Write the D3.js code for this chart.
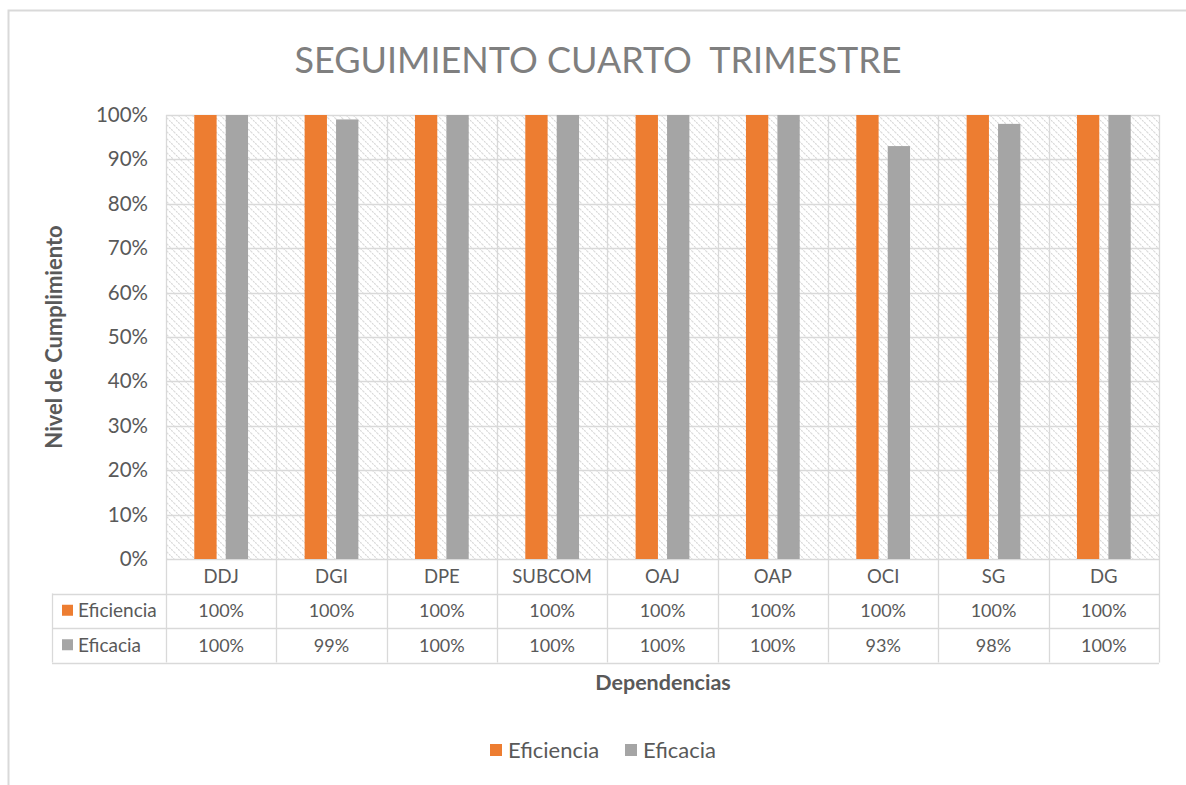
<!DOCTYPE html>
<html>
<head>
<meta charset="utf-8">
<script src="https://cdn.jsdelivr.net/npm/d3@7"></script>
<style>
  body { margin: 0; background: #fff; }
  text { font-family: Lato, "Open Sans", sans-serif; }
</style>
</head>
<body>
<svg id="chart" width="1186" height="785"></svg>
<script>
// data
const categories = ["DDJ", "DGI", "DPE", "SUBCOM", "OAJ", "OAP", "OCI", "SG", "DG"];
const seriesNames = ["Eficiencia", "Eficacia"];
const eficiencia = [1.00, 1.00, 1.00, 1.00, 1.00, 1.00, 1.00, 1.00, 1.00];
const eficacia = [1.00, 0.99, 1.00, 1.00, 1.00, 1.00, 0.93, 0.98, 1.00];
const yTicks = [0, 0.1, 0.2, 0.3, 0.4, 0.5, 0.6, 0.7, 0.8, 0.9, 1.0];

const colors = { "Eficiencia": "#ED7D31", "Eficacia": "#A5A5A5" };
const values = { "Eficiencia": eficiencia, "Eficacia": eficacia };

const svg = d3.select("#chart");
const margin = { left: 166, right: 1159, top: 115, bottom: 559 };
const rowH = 34.5;
const grid = "#d9d9d9";

// chart border (right edge falls off the picture)
svg.append("rect")
    .attr("x", 8.5).attr("y", 10.5)
    .attr("width", 1200).attr("height", 800)
    .attr("fill", "none").attr("stroke", "#d9d9d9").attr("stroke-width", 2);

// hatch pattern
const defs = svg.append("defs");
const pat = defs.append("pattern")
    .attr("id", "hatch")
    .attr("patternUnits", "userSpaceOnUse")
    .attr("width", 7).attr("height", 7);
pat.append("path")
    .attr("d", "M-1,-1 L8,8 M-1,6 L1,8 M6,-1 L8,1")
    .attr("stroke", "#d6d6d6").attr("stroke-width", 1.1)
    .attr("stroke-dasharray", "2,1");

const x = d3.scaleBand()
    .domain(categories)
    .range([margin.left, margin.right]);

const x1 = d3.scaleBand()
    .domain(seriesNames)
    .range([0, x.bandwidth()])
    .paddingInner(0.29)
    .paddingOuter(0.9);

const y = d3.scaleLinear()
    .domain([0, 1])
    .range([margin.bottom, margin.top]);

// plot background
svg.append("rect")
    .attr("x", margin.left).attr("y", margin.top)
    .attr("width", margin.right - margin.left)
    .attr("height", margin.bottom - margin.top)
    .attr("fill", "url(#hatch)");

// horizontal gridlines
svg.append("g")
    .selectAll("line")
    .data(yTicks)
    .enter()
    .append("line")
    .attr("x1", margin.left).attr("x2", margin.right)
    .attr("y1", d => Math.round(y(d)) + 0.5)
    .attr("y2", d => Math.round(y(d)) + 0.5)
    .attr("stroke", grid).attr("stroke-width", 1.3);

// vertical lines at category boundaries, through the data table
const tableBottom = margin.bottom + rowH * 3;
const bounds = categories.map(c => x(c)).concat([margin.right]);
svg.append("g")
    .selectAll("line")
    .data(bounds)
    .enter()
    .append("line")
    .attr("x1", d => Math.round(d) + 0.5).attr("x2", d => Math.round(d) + 0.5)
    .attr("y1", margin.top).attr("y2", tableBottom)
    .attr("stroke", grid).attr("stroke-width", 1.3);

// bars
const groups = svg.append("g")
    .selectAll("g")
    .data(categories)
    .enter()
    .append("g")
    .attr("transform", d => "translate(" + x(d) + ",0)");

groups.selectAll("rect")
    .data((c, i) => seriesNames.map(s => ({ s: s, v: values[s][i] })))
    .enter()
    .append("rect")
    .attr("x", d => x1(d.s))
    .attr("width", x1.bandwidth())
    .attr("y", d => y(d.v))
    .attr("height", d => y(0) - y(d.v))
    .attr("fill", d => colors[d.s]);

// y axis labels
svg.append("g")
    .selectAll("text")
    .data(yTicks)
    .enter()
    .append("text")
    .attr("x", 148)
    .attr("y", d => y(d) + 7)
    .attr("text-anchor", "end")
    .attr("font-size", 20.5)
    .attr("fill", "#595959")
    .text(d3.format(".0%"));

// data table horizontal lines
const tableX0 = 52;
[margin.bottom + rowH, margin.bottom + rowH * 2, tableBottom].forEach(yy => {
    svg.append("line")
        .attr("x1", tableX0).attr("x2", margin.right)
        .attr("y1", Math.round(yy) + 0.5).attr("y2", Math.round(yy) + 0.5)
        .attr("stroke", grid).attr("stroke-width", 1.3);
});
svg.append("line")
    .attr("x1", tableX0 + 0.5).attr("x2", tableX0 + 0.5)
    .attr("y1", margin.bottom + rowH).attr("y2", tableBottom)
    .attr("stroke", grid).attr("stroke-width", 1.3);

// category labels
svg.append("g")
    .selectAll("text")
    .data(categories)
    .enter()
    .append("text")
    .attr("x", d => x(d) + x.bandwidth() / 2)
    .attr("y", margin.bottom + rowH / 2 + 7)
    .attr("text-anchor", "middle")
    .attr("font-size", 18.5)
    .attr("fill", "#595959")
    .text(d => d);

// table value rows
seriesNames.forEach((s, r) => {
    const cy = margin.bottom + rowH * (r + 1) + rowH / 2;
    svg.append("rect")
        .attr("x", 62).attr("y", cy - 6)
        .attr("width", 11).attr("height", 11)
        .attr("fill", colors[s]);
    svg.append("text")
        .attr("x", 78).attr("y", cy + 6.5)
        .attr("font-size", 19)
        .attr("fill", "#595959")
        .text(s);
    svg.append("g")
        .selectAll("text")
        .data(values[s])
        .enter()
        .append("text")
        .attr("x", (d, i) => x(categories[i]) + x.bandwidth() / 2)
        .attr("y", cy + 6.5)
        .attr("text-anchor", "middle")
        .attr("font-size", 18)
        .attr("fill", "#595959")
        .text(d3.format(".0%"));
});

// title
svg.append("text")
    .attr("x", 598).attr("y", 73)
    .attr("text-anchor", "middle")
    .attr("font-size", 36)
    .attr("fill", "#7f7f7f")
    .style("white-space", "pre")
    .text("SEGUIMIENTO CUARTO  TRIMESTRE");

// axis titles
svg.append("text")
    .attr("transform", "translate(62,337) rotate(-90)")
    .attr("text-anchor", "middle")
    .attr("font-size", 22)
    .attr("font-weight", "bold")
    .attr("fill", "#595959")
    .text("Nivel de Cumplimiento");

svg.append("text")
    .attr("x", 663).attr("y", 690)
    .attr("text-anchor", "middle")
    .attr("font-size", 21.5)
    .attr("font-weight", "bold")
    .attr("fill", "#595959")
    .text("Dependencias");

// legend
const legend = svg.append("g")
    .selectAll("g")
    .data(seriesNames)
    .enter()
    .append("g")
    .attr("transform", (d, i) => "translate(" + [490, 625][i] + ",744)");
legend.append("rect")
    .attr("width", 12).attr("height", 12)
    .attr("fill", d => colors[d]);
legend.append("text")
    .attr("x", 18).attr("y", 14)
    .attr("font-size", 22)
    .attr("fill", "#595959")
    .text(d => d);
</script>
</body>
</html>
